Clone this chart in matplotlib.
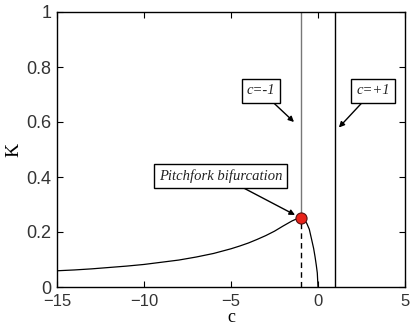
import matplotlib.pyplot as plt
import numpy as np

# values
c = [-15, -14, -13, -12, -11, -10, -9, -8, -7, -6, -5, -4.5, -4, -3.5, -3, -2.5, -2, -1.75,
     -1.5, -1.25, -1, -0.8, -0.65, -0.5, -0.36, -0.25, -0.17, -0.1, -0.04, 0]
K = [0.059, 0.062, 0.066, 0.071, 0.076, 0.082, 0.09, 0.098, 0.109, 0.122, 0.139, 0.149, 0.16,
     0.173, 0.187, 0.203, 0.222, 0.231, 0.24, 0.247, 0.25,
     0.245, 0.232, 0.21, 0.171, 0.14, 0.11, 0.08, 0.051, 0]
c_bif, K_bif = -1, 0.25
c_lines = [-1, 1]

plt.rcParams['font.family'] = ['Liberation Sans', 'DejaVu Sans']

fig = plt.figure(figsize=(4.13, 3.27), dpi=100)
ax = fig.add_axes([57 / 413, 40 / 327, 348 / 413, 275 / 327])

ax.plot(c, K, color='black', lw=0.9)
ax.vlines(c_lines[0], K_bif, 1, color='#777777', lw=1.0)
ax.vlines(c_lines[1], 0, 1, color='black', lw=1.0)
ax.vlines(c_bif, 0, K_bif, color='black', lw=1.0, linestyles=(0, (4, 3)))
ax.plot(c_bif, K_bif, 'o', ms=8, mfc='#e8231a', mec='#551111', mew=0.8, zorder=5)

box = dict(boxstyle='square,pad=0.35', fc='white', ec='black', lw=1.0)
arr = dict(arrowstyle='-|>', color='black', lw=1.0, mutation_scale=8, shrinkA=0, shrinkB=0)
tfont = dict(family='Liberation Serif', style='italic', fontsize=10.5, color='#222222')

ax.annotate('c=-1', xy=(-1.38, 0.6), xytext=(-3.28, 0.713), ha='center', va='center',
            bbox=box, arrowprops=arr, **tfont)
ax.annotate('c=+1', xy=(1.2, 0.58), xytext=(3.16, 0.713), ha='center', va='center',
            bbox=box, arrowprops=arr, **tfont)
ax.annotate('Pitchfork bifurcation', xy=(-1.32, 0.262), xytext=(-5.6, 0.404),
            ha='center', va='center', bbox=box, arrowprops=arr, **tfont)

ax.set_xlim(-15, 5)
ax.set_ylim(0, 1)
ax.set_xticks([-15, -10, -5, 0, 5])
ax.set_yticks([0, 0.2, 0.4, 0.6, 0.8, 1])
ax.set_yticklabels(['0', '0.2', '0.4', '0.6', '0.8', '1'])
ax.tick_params(direction='in', top=True, right=True, length=4, labelsize=13,
               labelcolor='#333333')
ax.tick_params(axis='x', pad=5, labelsize=12)
ax.tick_params(axis='y', pad=4)
for s in ax.spines.values():
    s.set_linewidth(1.0)

ax.set_xlabel('c', family='Liberation Serif', fontsize=13, va='bottom')
ax.xaxis.set_label_coords(0.5, -0.142)
ax.set_ylabel('K', family='Liberation Serif', fontsize=14, labelpad=3)

fig.savefig('out.png', dpi=100)
